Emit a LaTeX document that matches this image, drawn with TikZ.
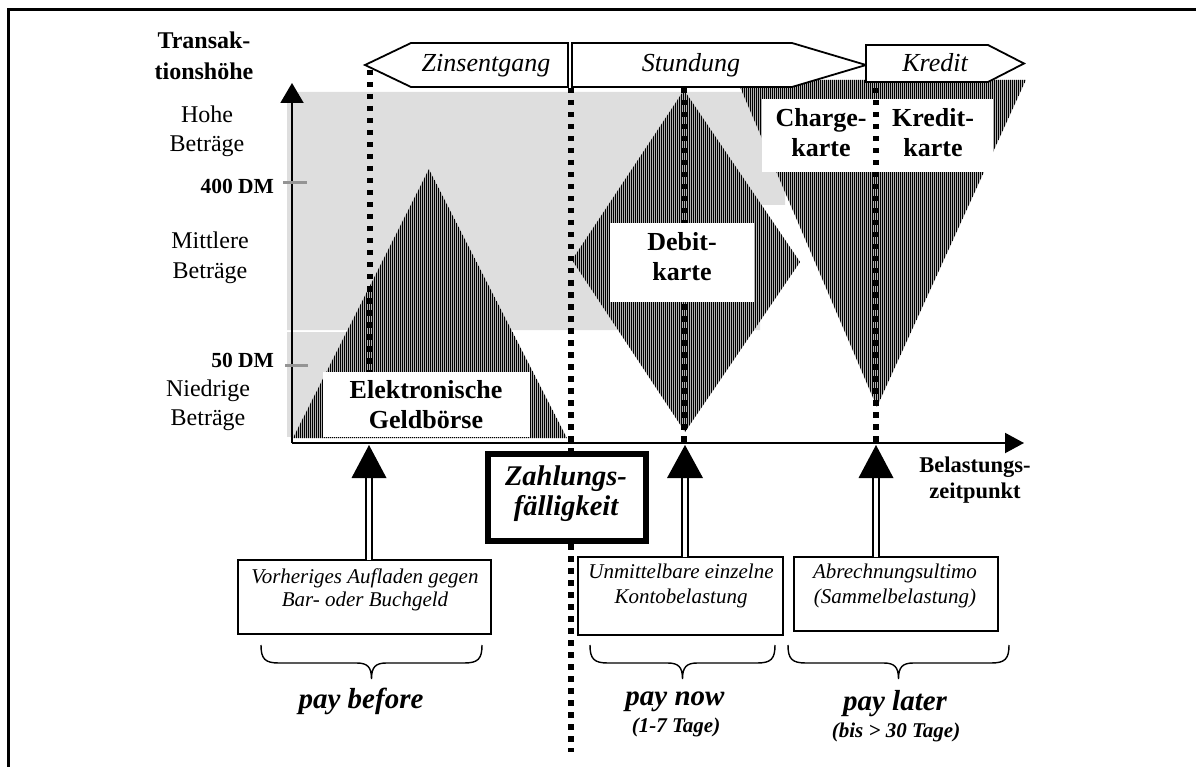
\documentclass[tikz,border=0pt]{standalone}
\usepackage{fontspec}
\setmainfont{Liberation Serif}
\usetikzlibrary{arrows.meta}

\definecolor{bandgray}{rgb}{0.87,0.87,0.87}
\definecolor{tickgray}{rgb}{0.58,0.58,0.58}
\definecolor{hatchground}{rgb}{0.70,0.70,0.70}

% font sizes
\newcommand\fsAxis{\fontsize{24}{29}\selectfont}
\newcommand\fsAxisBold{\bfseries\fontsize{24}{31}\selectfont}
\newcommand\fsAmount{\bfseries\fontsize{21.5}{26}\selectfont}
\newcommand\fsCard{\bfseries\fontsize{26}{30}\selectfont}
\newcommand\fsPhase{\itshape\fontsize{26}{30}\selectfont}
\newcommand\fsNoteA{\itshape\fontsize{21}{23}\selectfont}
\newcommand\fsNoteB{\itshape\fontsize{21}{25}\selectfont}
\newcommand\fsPay{\bfseries\itshape\fontsize{29}{30}\selectfont}
\newcommand\fsDays{\bfseries\itshape\fontsize{21}{24}\selectfont}
\newcommand\fsDue{\bfseries\itshape\fontsize{28.5}{30}\selectfont}
\newcommand\fsTime{\bfseries\fontsize{22.5}{26}\selectfont}

% curly brace opening downwards, between two x positions
\newcommand\drawbrace[2]{%
  \draw[bracestyle] (#1,645) .. controls (#1,659) and (#1+4,663) .. (#1+18,663)
    -- ({(#1+#2)/2-15},663) .. controls ({(#1+#2)/2-4},663) and ({(#1+#2)/2},667) .. ({(#1+#2)/2},679)
    .. controls ({(#1+#2)/2},667) and ({(#1+#2)/2+4},663) .. ({(#1+#2)/2+15},663)
    -- (#2-18,663) .. controls (#2-4,663) and (#2,659) .. (#2,645);}

% vertically striped region: #1 closed path, #2 left x, #3 right x, #4 top y, #5 bottom y
\newcommand\stripedregion[5]{%
  \begin{scope}
    \clip #1;
    \fill[hatchground] (#2,#4) rectangle (#3,#5);
    \pgfmathtruncatemacro\nstripes{(#3-#2)/2}
    \foreach \i in {0,...,\nstripes}
      \draw[stripe] ({#2+0.5+2*\i},#4) -- ({#2+0.5+2*\i},#5);
  \end{scope}}

\begin{document}
\begin{tikzpicture}[x=1pt,y=-1pt,
  every node/.style={inner sep=0pt,outer sep=0pt},
  stripe/.style={line width=1.45pt,black},
  band/.style={fill=bandgray},
  dotline/.style={line width=5.5pt,dash pattern=on 5.5pt off 6.5pt},
  whitebox/.style={fill=white},
  axisline/.style={line width=2pt},
  phase/.style={draw,line width=1.8pt,fill=white,line join=miter},
  notebox/.style={draw,line width=1.5pt,fill=white},
  duebox/.style={draw,line width=6pt,fill=white},
  shaft/.style={double distance=4.5pt,line width=1.3pt},
  tickmark/.style={tickgray,line width=3pt},
  bracestyle/.style={line width=1.4pt},
  frame/.style={line width=3pt},
]
\useasboundingbox (0,0) rectangle (1196,767);

% outer frame
\draw[frame] (8.5,767) -- (8.5,9.5) -- (1196,9.5);

% amount bands
\fill[band] (287,92) -- (785,92) -- (785,205) -- (760,205) -- (760,330) -- (287,330) -- cycle;
\fill[band] (287,331.5) rectangle (350,437);

% card regions
\stripedregion{(293,438) -- (429,169) -- (567,438) -- cycle}{292}{568}{165}{440}
\stripedregion{(684,90) -- (800,262) -- (685,432) -- (572,260) -- cycle}{571}{801}{88}{434}
\stripedregion{(737,80) -- (1026,80) -- (877,407) -- cycle}{736}{1027}{78}{409}

% key points
\coordinate (o) at (292,443);
\coordinate (yend) at (292,83);
\coordinate (xend) at (1024,443);
\coordinate (zA) at (370,70);
\coordinate (zB) at (571,88);
\coordinate (zBend) at (571,752);
\coordinate (zC) at (684,88);
\coordinate (zD) at (876,88);

% settlement lines behind the labels
\draw[dotline] (zA) -- (zA |- o);
\draw[dotline] (zB) -- (zBend);
\draw[dotline] (zC) -- (zC |- o);

% card labels (multi-line nodes sit on the baseline of their last line)
\node[whitebox,minimum width=207pt,minimum height=65pt] (egbox) at (426.5,404.5) {};
\node[font=\fsCard,align=center,anchor=base] (eg) at (426,428) {Elektronische\\Geldbörse};
\node[whitebox,minimum width=144pt,minimum height=79pt] (dbbox) at (682,262.5) {};
\node[font=\fsCard,align=center,anchor=base] (db) at (682,280) {Debit-\\karte};
\node[whitebox,minimum width=231pt,minimum height=73pt] (ckbox) at (877.5,135.5) {};
\node[font=\fsCard,align=center,anchor=base] (ck1) at (821,157) {Charge-\\karte};
\node[font=\fsCard,align=center,anchor=base] (ck2) at (933,157) {Kredit-\\karte};

\draw[dotline] (zD) -- (zD |- o);

% axes
\draw[axisline,-{Triangle[length=20pt,width=23pt]}] (o) -- (yend);
\draw[axisline,-{Triangle[length=19pt,width=20pt]}] (o) -- (xend);
\draw[tickmark] (283,183) -- (307,183);
\draw[tickmark] (285,365) -- (308,365);

\node[font=\fsAxisBold,align=center,anchor=base] (ylab) at (204,80) {Transak-\\tionshöhe};
\node[font=\fsAxis,align=center,anchor=base] (hi) at (207,152) {Hohe\\Beträge};
\node[font=\fsAxis,align=center,anchor=base] (mid) at (210,278) {Mittlere\\Beträge};
\node[font=\fsAxis,align=center,anchor=base] (lo) at (208,425) {Niedrige\\Beträge};
\node[font=\fsAmount,anchor=base east] (a400) at (274,194) {400 DM};
\node[font=\fsAmount,anchor=base east] (a50) at (274,367) {50 DM};
\node[font=\fsTime,align=center,anchor=base] (xlab) at (975,498) {Belastungs-\\zeitpunkt};

% phases along the top
\draw[phase] (365,65) -- (411,43) -- (568,43) -- (568,87) -- (411,87) -- cycle;
\node[font=\fsPhase,anchor=base] (zins) at (486,72) {Zinsentgang};
\draw[phase] (572,43) -- (792,43) -- (866,65) -- (792,87) -- (572,87) -- cycle;
\node[font=\fsPhase,anchor=base] (stund) at (691,72) {Stundung};
\draw[phase] (866,45) -- (988,45) -- (1024,63.5) -- (988,82) -- (866,82) -- cycle;
\node[font=\fsPhase,anchor=base] (kred) at (935,72) {Kredit};

% due date
\node[duebox,minimum width=158pt,minimum height=87pt] (due) at (567,497.5) {};
\node[font=\fsDue,align=center,anchor=base] (duetext) at (566,515) {Zahlungs-\\fälligkeit};

% settlement modes
\node[notebox,minimum width=253pt,minimum height=74pt] (vb) at (364.5,597) {};
\node[font=\fsNoteA,align=center,anchor=base] (vbt) at (365,606) {Vorheriges Aufladen gegen\\Bar- oder Buchgeld};
\node[notebox,minimum width=205pt,minimum height=78pt] (ub) at (680.5,596) {};
\node[font=\fsNoteB,align=center,anchor=base] (ubt) at (681,603) {Unmittelbare einzelne\\Kontobelastung};
\node[notebox,minimum width=204pt,minimum height=74pt] (ab) at (896,594) {};
\node[font=\fsNoteB,align=center,anchor=base] (abt) at (895,603) {Abrechnungsultimo\\(Sammelbelastung)};

% arrows up to the time axis
\coordinate (tipA) at (369,445);
\coordinate (tipB) at (685,445);
\coordinate (tipC) at (876,445);
\draw[shaft] (vb.north -| tipA) -- ([yshift=-32pt]tipA);
\draw[shaft] (ub.north -| tipB) -- ([yshift=-32pt]tipB);
\draw[shaft] (ab.north -| tipC) -- ([yshift=-32pt]tipC);
\fill (tipA) -- ++(-17.5,33) -- ++(35,0) -- cycle;
\fill (tipB) -- ++(-18,33) -- ++(36,0) -- cycle;
\fill (tipC) -- ++(-17.5,33) -- ++(35,0) -- cycle;

% groups
\drawbrace{261}{482}
\drawbrace{590}{775}
\drawbrace{788}{1009}
\node[font=\fsPay,anchor=base] (pb) at (361,708) {pay before};
\node[font=\fsPay,anchor=base] (pn) at (675,705) {pay now};
\node[font=\fsDays,anchor=base] (pnd) at (676,732) {(1-7 Tage)};
\node[font=\fsPay,anchor=base] (pl) at (895,710) {pay later};
\node[font=\fsDays,anchor=base] (pld) at (896,737) {(bis > 30 Tage)};
\end{tikzpicture}
\end{document}
